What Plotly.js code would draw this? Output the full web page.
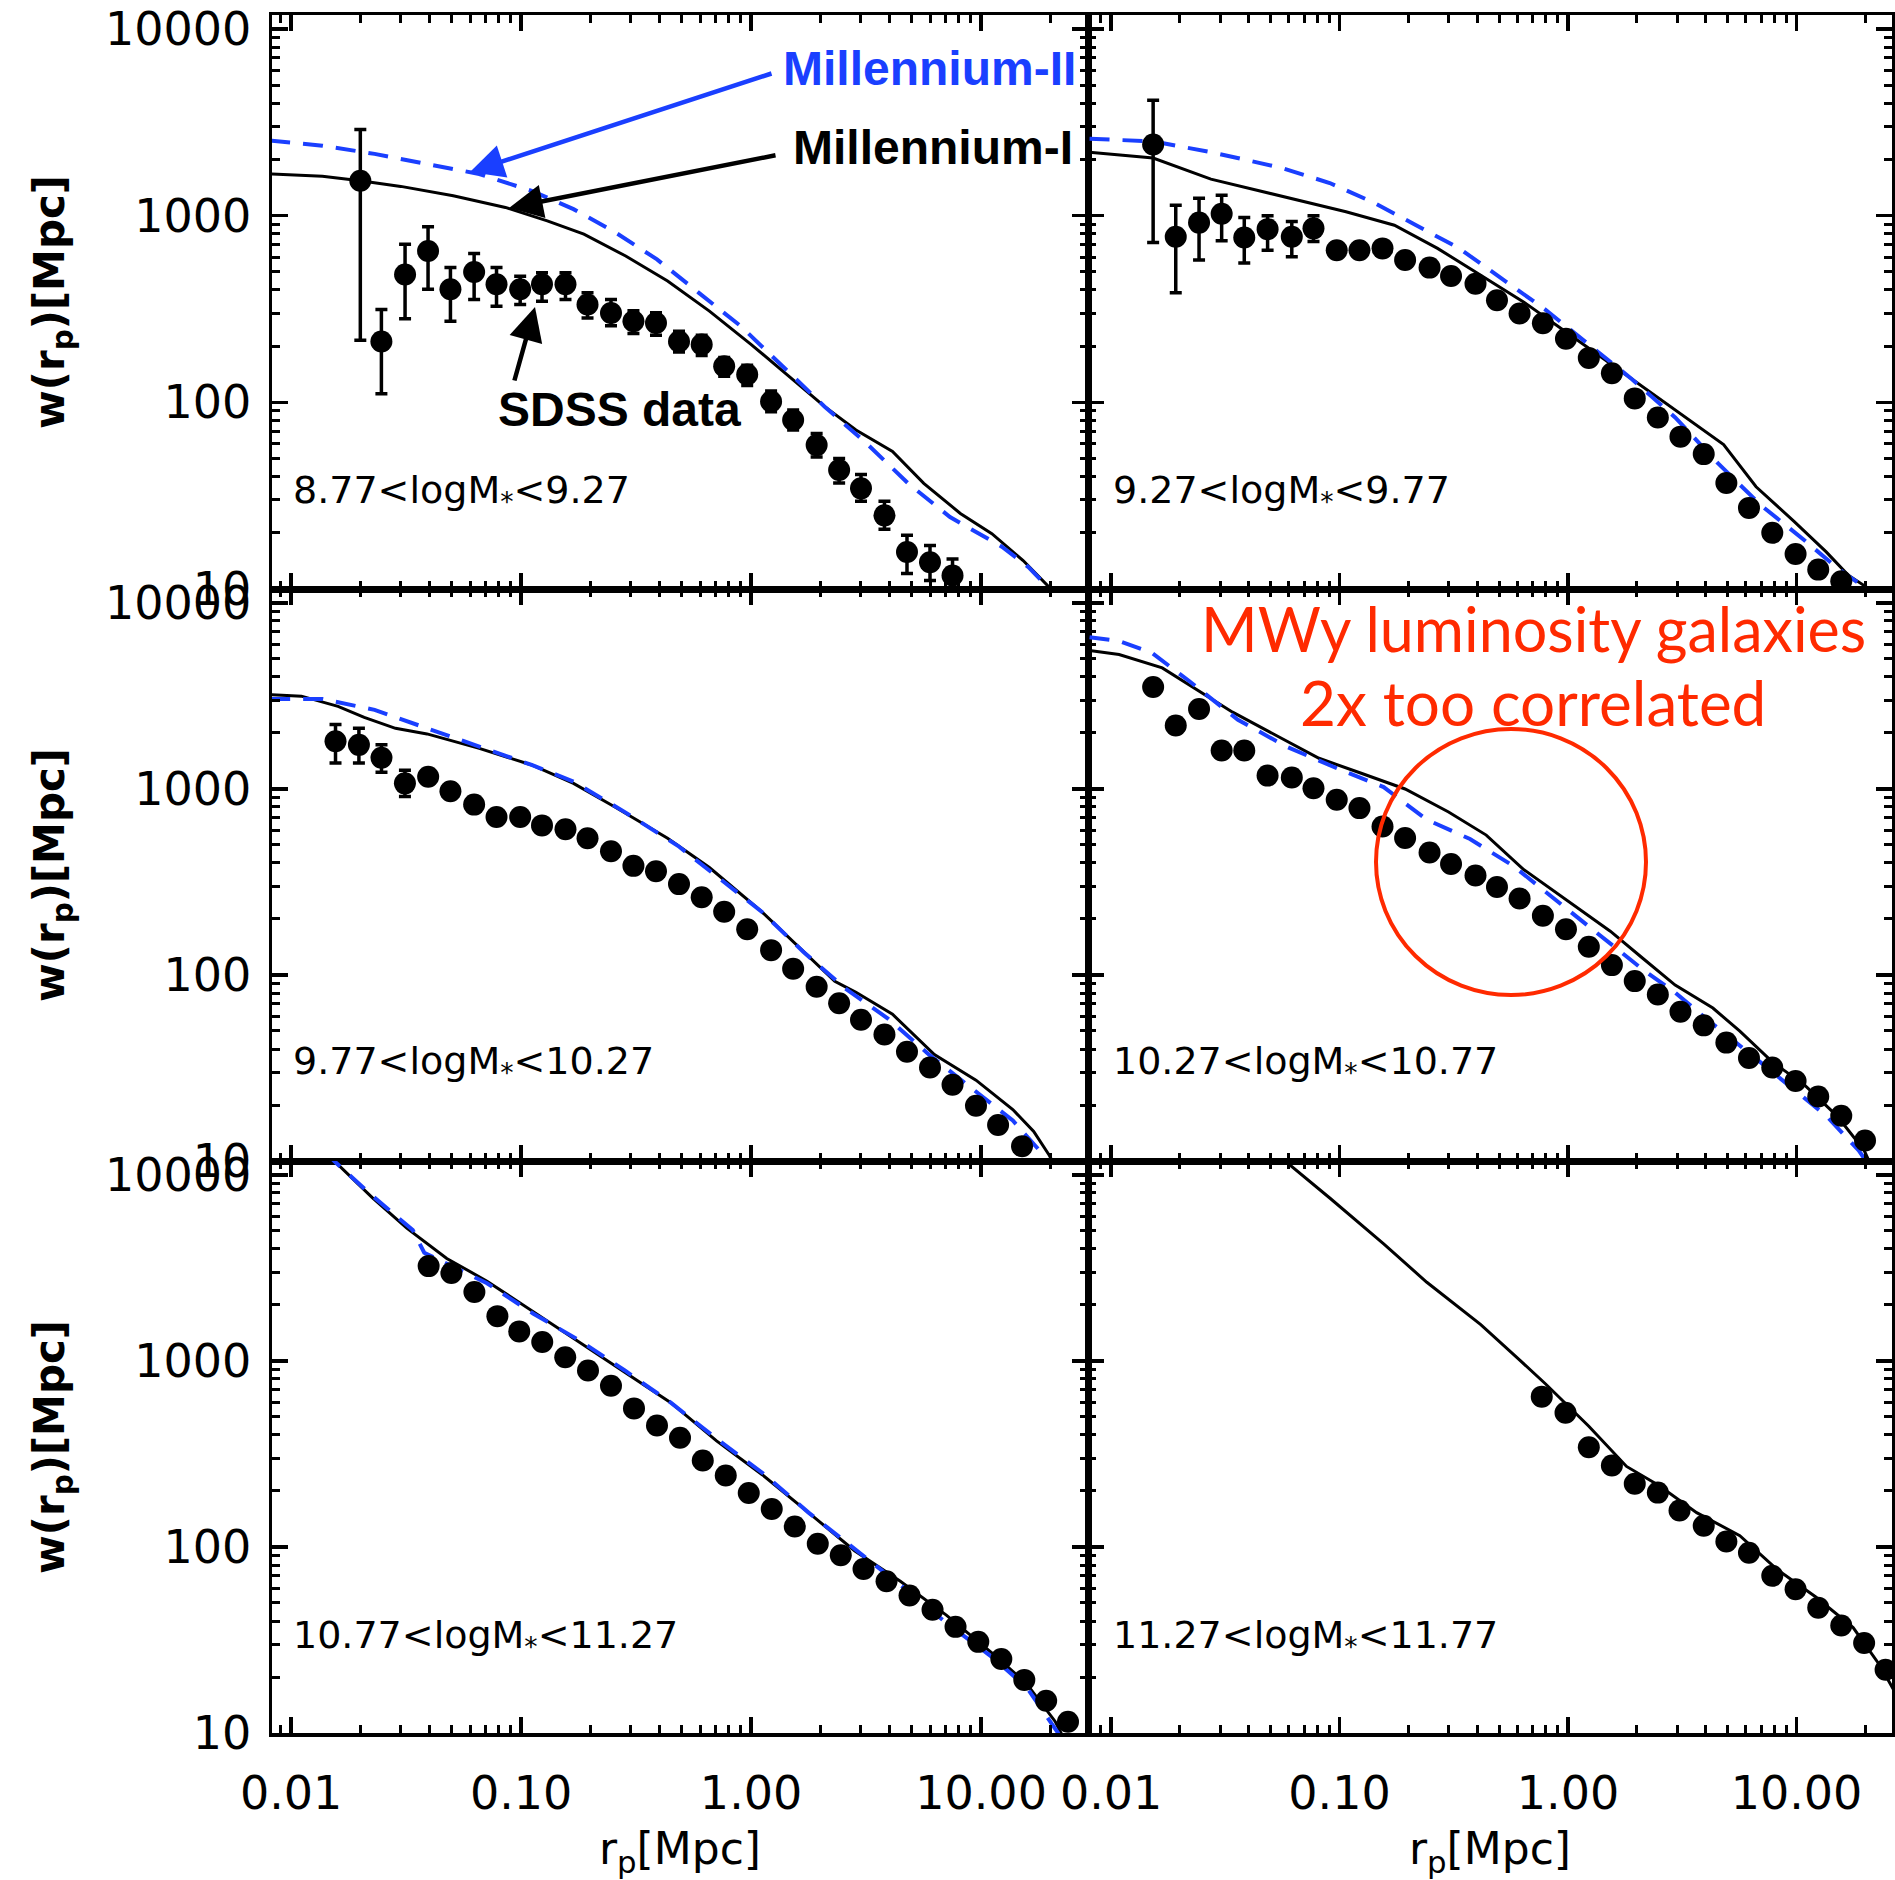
<!DOCTYPE html>
<html><head><meta charset="utf-8">
<script src="https://cdn.plot.ly/plotly-3.0.1.min.js"></script>
<style>html,body{margin:0;padding:0;background:#fff;overflow:hidden}</style>
</head><body><div id="chart" style="width:1895px;height:1880px"></div>
<script>
// ---------------- DATA ----------------
// Panel 1: 8.77<logM*<9.27
const p1_sdss_r = [0.0200,0.0247,0.0313,0.0394,0.0493,0.0625,0.0782,0.0991,0.1233,0.156,0.1945,0.246,0.308,0.386,0.486,0.610,0.764,0.962,1.222,1.524,1.928,2.415,3.006,3.802,4.764,5.998,7.516];
const p1_sdss_w = [1538,212,484,647,403,499,429,403,429,429,334,301,272,266,212,204,156,141,101,80.5,59.0,43.4,34.6,24.8,15.8,13.9,11.8];
const p1_sdss_hi = [2891,314,703,871,527,627,527,474,494,494,386,355,309,302,240,229,174,158,115,91,68,50,41,29.5,19.4,17.1,14.5];
const p1_sdss_lo = [215,111,280,403,272,356,327,334,348,356,283,257,234,229,186,178,138,123,89,71,51,37,29.5,20.9,12.1,11.1,9.8];
const p1_m1_r = [0.00811,0.01368,0.0200,0.0300,0.0507,0.0855,0.130,0.1875,0.285,0.4335,0.659,1.002,1.524,2.084,2.858,4.121,5.636,8.128,11.14,15.24,19.82,21.5];
const p1_m1_w = [1671,1626,1538,1435,1279,1107,938,796,608,447,308,204,132,95.1,71.1,54.5,36.8,25.4,19.8,14.2,10.2,8.5];
const p1_m2_r = [0.00811,0.01368,0.02307,0.0390,0.0658,0.1112,0.169,0.257,0.390,0.593,0.902,1.371,2.084,3.170,4.819,7.328,12.36,16.07,19.82,21.0];
const p1_m2_w = [2523,2371,2143,1892,1671,1358,1084,813,583,386,256,156,95.1,60.4,36.8,24.3,16.8,13.1,10.0,8.6];

// Panel 2: 9.27<logM*<9.77
const p2_sdss_r = [0.01528,0.01919,0.02427,0.03048,0.03828,0.04842,0.0618,0.0769,0.0972,0.1222,0.1542,0.1936,0.2477,0.3076,0.3936,0.4887,0.6138,0.7762,0.9795,1.233,1.556,1.959,2.472,3.105,3.926,4.932,6.194,7.834,9.908,12.45,15.70];
const p2_sdss_w = [2404,771,918,1023,764,847,771,855,653,653,668,579,527,475,432,352,299,265,219,173,143,105,83.0,65.5,52.8,37.0,27.2,20.0,15.4,12.7,11.0];
const p2_sdss_hi = [4150,1138,1239,1285,977,1000,931,1000];
const p2_sdss_lo = [718,387,579,735,558,653,603,728];
const p2_m1_r = [0.00804,0.01528,0.02735,0.0618,0.1067,0.1738,0.2685,0.4150,0.6412,0.9908,1.531,2.366,3.656,4.797,6.653,9.727,13.49,16.79,20.84,21.9];
const p2_m1_w = [2188,2037,1570,1239,1050,889,668,480,344,236,161,110,75.3,59.4,35.3,23.1,15.8,11.9,10.0,9.1];
const p2_m2_r = [0.00805,0.01528,0.02735,0.05546,0.0906,0.140,0.2163,0.3342,0.5164,0.798,1.233,1.905,2.944,4.550,7.031,10.86,15.03,20.28,21.4];
const p2_m2_w = [2582,2500,2188,1807,1496,1180,889,668,457,313,204,133,83.0,46.9,27.9,18.2,13.0,10.0,8.9];

// Panel 3: 9.77<logM*<10.27
const p3_sdss_r = [0.0156,0.01972,0.02472,0.03126,0.03945,0.0493,0.0625,0.0782,0.0991,0.1233,0.156,0.1945,0.246,0.308,0.386,0.486,0.610,0.764,0.962,1.222,1.524,1.928,2.415,3.006,3.802,4.764,5.998,7.516,9.506,11.86,15.07];
const p3_sdss_w = [1807,1726,1472,1072,1164,971,824,706,706,637,608,543,463,386,361,308,262,219,176,136,108,86.5,70.5,57.4,47.9,38.7,31.8,25.7,19.8,15.6,12.0];
const p3_sdss_hi = [2218,2118,1726,1259];
const p3_sdss_lo = [1377,1377,1230,912];
const p3_m1_r = [0.00811,0.01109,0.0160,0.0208,0.02844,0.0390,0.0658,0.1112,0.169,0.257,0.4335,0.659,1.112,1.690,2.312,2.858,4.121,6.266,9.506,13.74,16.94,19.82,21.4];
const p3_m1_w = [3214,3155,2780,2427,2118,1977,1652,1346,1072,798,543,378,219,133,92.5,80.7,61.5,37.3,27.2,18.9,14.4,10.7,8.9];
const p3_m2_r = [0.00811,0.01368,0.02307,0.0390,0.0731,0.1112,0.169,0.285,0.4808,0.7311,1.112,1.690,2.570,3.908,5.943,9.036,13.74,18.79,19.95];
const p3_m2_w = [3048,3048,2661,2118,1614,1346,1096,746,495,330,219,133,84.5,58.7,37.3,24.8,16.5,10.7,8.9];

// Panel 4: 10.27<logM*<10.77
const p4_sdss_r = [0.01528,0.01919,0.02427,0.03048,0.03828,0.04842,0.0618,0.0769,0.0972,0.1222,0.1542,0.1936,0.2477,0.3076,0.3936,0.4887,0.6138,0.7762,0.9795,1.233,1.556,1.959,2.472,3.105,3.926,4.932,6.194,7.834,9.908,12.45,15.70,19.95];
const p4_sdss_w = [3532,2193,2692,1611,1611,1180,1153,1009,875,789,628,545,456,395,343,297,258,208,176,142,113,92.7,78.5,63.4,53.6,43.3,35.8,31.8,26.9,22.2,17.5,12.9];
const p4_m1_r = [0.00805,0.01084,0.01675,0.02203,0.03404,0.0526,0.0813,0.1253,0.1936,0.300,0.4385,0.6412,0.9908,1.531,2.123,2.944,4.305,5.649,7.834,10.86,15.03,19.77,20.84,21.4];
const p4_m1_w = [5546,5284,4477,3614,2588,1945,1462,1211,1000,752,565,368,252,172,123,88.3,66.4,49.9,34.1,25.6,17.5,11.4,9.9,9.1];
const p4_m2_r = [0.00805,0.01084,0.01503,0.02203,0.0359,0.0586,0.1009,0.156,0.241,0.3724,0.5754,0.889,1.374,2.123,2.944,4.074,6.295,9.727,13.49,18.71,20.28,20.9];
const p4_m2_w = [6546,6237,5408,3793,2355,1687,1268,1023,684,538,386,252,164,107,80.4,57.5,37.5,24.4,17.5,11.4,9.9,8.9];

// Panel 5: 10.77<logM*<11.27
const p5_sdss_r = [0.03963,0.04977,0.06266,0.07889,0.09817,0.1236,0.1556,0.1954,0.246,0.3097,0.3899,0.4909,0.6166,0.7762,0.9772,1.230,1.549,1.950,2.455,3.083,3.882,4.887,6.152,7.745,9.727,12.25,15.42,19.19,23.88];
const p5_sdss_w = [3236,2972,2350,1742,1442,1265,1047,889,736,556,450,387,292,242,195,160,129,104,90.2,76.2,65.5,54.8,46.0,37.2,30.9,25.0,19.3,14.9,11.5];
const p5_m1_r = [0.01413,0.01552,0.02254,0.03184,0.04753,0.07112,0.1127,0.1786,0.2825,0.4477,0.7079,1.122,1.778,2.818,4.457,7.063,11.17,15.78,21.04,22.28,22.9];
const p5_m1_w = [13183,11776,7551,5176,3556,2685,1841,1265,869,597,372,244,153,95.5,65.5,43.0,26.9,18.4,11.5,10.0,9.1];
const p5_m2_r = [0.01413,0.01552,0.02254,0.03381,0.03793,0.07112,0.1127,0.1786,0.2825,0.4477,0.7079,1.122,1.778,2.818,4.457,7.063,11.17,15.78,21.63,22.4];
const p5_m2_w = [13183,11776,7727,5058,3819,2618,1799,1294,889,597,382,250,153,97.7,62.5,39.1,25.6,17.6,10.0,9.1];

// Panel 6: 11.27<logM*<11.77
const p6_sdss_r = [0.7674,0.9750,1.233,1.556,1.959,2.472,3.076,3.926,4.932,6.194,7.834,9.908,12.45,15.70,19.77,24.55];
const p6_sdss_w = [643,527,344,274,219,196,157,130,107,93.1,70.0,59.3,47.2,37.8,30.5,21.9];
const p6_m1_r = [0.04467,0.05546,0.0906,0.156,0.241,0.415,0.6081,0.798,1.233,1.803,2.500,3.656,5.649,8.279,12.11,17.70,23.23,27.1];
const p6_m1_w = [14454,12388,7516,4256,2649,1570,1023,752,446,271,214,153,115,75.2,54.0,36.9,23.0,16.4];

const panelLabels = ['8.77&lt;logM<sub>*</sub>&lt;9.27','9.27&lt;logM<sub>*</sub>&lt;9.77','9.77&lt;logM<sub>*</sub>&lt;10.27',
  '10.27&lt;logM<sub>*</sub>&lt;10.77','10.77&lt;logM<sub>*</sub>&lt;11.27','11.27&lt;logM<sub>*</sub>&lt;11.77'];
const xTickVals = [0.01, 0.1, 1, 10];
const xTickText = ['0.01', '0.10', '1.00', '10.00'];
const yTickVals = [10, 100, 1000, 10000];
const yTickText = ['10', '100', '1000', '10000'];

// ---------------- STYLE ----------------
const FONT = 'DejaVu Sans';
const BOLD = 'Liberation Sans';
const BLUE = '#1a3fff';
const RED = '#ff2a00';

const panels = [
  {sr:p1_sdss_r, sw:p1_sdss_w, hi:p1_sdss_hi, lo:p1_sdss_lo, m1r:p1_m1_r, m1w:p1_m1_w, m2r:p1_m2_r, m2w:p1_m2_w},
  {sr:p2_sdss_r, sw:p2_sdss_w, hi:p2_sdss_hi, lo:p2_sdss_lo, m1r:p2_m1_r, m1w:p2_m1_w, m2r:p2_m2_r, m2w:p2_m2_w},
  {sr:p3_sdss_r, sw:p3_sdss_w, hi:p3_sdss_hi, lo:p3_sdss_lo, m1r:p3_m1_r, m1w:p3_m1_w, m2r:p3_m2_r, m2w:p3_m2_w},
  {sr:p4_sdss_r, sw:p4_sdss_w, hi:null, lo:null, m1r:p4_m1_r, m1w:p4_m1_w, m2r:p4_m2_r, m2w:p4_m2_w},
  {sr:p5_sdss_r, sw:p5_sdss_w, hi:null, lo:null, m1r:p5_m1_r, m1w:p5_m1_w, m2r:p5_m2_r, m2w:p5_m2_w},
  {sr:p6_sdss_r, sw:p6_sdss_w, hi:null, lo:null, m1r:p6_m1_r, m1w:p6_m1_w, m2r:null, m2w:null}
];

const W = 1895, H = 1880;
const M = {l:272, r:3, t:15, b:147};
const PW = W - M.l - M.r, PH = H - M.t - M.b;
const colSplit = (1088 - M.l) / PW;
const rowA = (1733 - 1161) / PH, rowB = (1733 - 589) / PH;
const xDomains = [[0, colSplit], [colSplit, 1]];
const yDomains = [[rowB, 1], [rowA, rowB], [0, rowA]];
const xRanges = [[-2.083, 1.465], [-2.101, 1.418]];
const yRange = [1, 4.075];
const px = v => (v - M.l) / PW;
const py = v => (H - M.b - v) / PH;

function minorVals(e0, e1) { const v = []; for (let e = e0; e <= e1; e++) for (let m = 2; m <= 9; m++) v.push(m * Math.pow(10, e)); return v; }

const traces = [];
panels.forEach((p, i) => {
  const s = i === 0 ? '' : String(i + 1);
  const xa = 'x' + s, ya = 'y' + s;
  traces.push({x:p.m1r, y:p.m1w, xaxis:xa, yaxis:ya, mode:'lines', name:'Millennium-I',
    line:{color:'black', width:3}, showlegend:false, hoverinfo:'skip'});
  if (p.m2r) traces.push({x:p.m2r, y:p.m2w, xaxis:xa, yaxis:ya, mode:'lines', name:'Millennium-II',
    line:{color:BLUE, width:4, dash:'20px,13px'}, showlegend:false, hoverinfo:'skip'});
  const t = {x:p.sr, y:p.sw, xaxis:xa, yaxis:ya, mode:'markers', name:'SDSS data',
    marker:{color:'black', size:22, symbol:'circle'}, showlegend:false};
  if (p.hi) {
    t.error_y = {type:'data', symmetric:false, visible:true,
      array:p.hi.map((h, k) => h - p.sw[k]), arrayminus:p.lo.map((l, k) => p.sw[k] - l),
      color:'black', thickness:3.5, width:6};
  }
  traces.push(t);
});

const layout = {
  width: W, height: H, margin: M, paper_bgcolor:'white', plot_bgcolor:'white', showlegend:false,
  font:{family:FONT, color:'black', size:46},
  annotations: [], shapes: []
};

const axisCommon = {
  type:'log', showline:true, linecolor:'black', linewidth:3.5, mirror:'ticks',
  ticks:'inside', ticklen:16, tickwidth:3.5, tickcolor:'black',
  showgrid:false, zeroline:false, fixedrange:true,
  tickfont:{family:FONT, size:46, color:'black'}
};

for (let i = 0; i < 6; i++) {
  const s = i === 0 ? '' : String(i + 1);
  const col = i % 2, row = Math.floor(i / 2);
  const xa = Object.assign({}, axisCommon, {
    domain:xDomains[col], range:xRanges[col], anchor:'y' + s,
    tickmode:'array', tickvals:xTickVals, ticktext:xTickText,
    showticklabels: row === 2, ticklabelstandoff: 17,
    minor:{tickmode:'array', tickvals:minorVals(-3, 1), ticks:'inside', ticklen:8, tickwidth:3, tickcolor:'black', showgrid:false}
  });
  if (row === 2) xa.title = {text:'r<sub>p</sub>[Mpc]', font:{family:FONT, size:44, color:'black'}, standoff:27};
  const yaObj = Object.assign({}, axisCommon, {
    domain:yDomains[row], range:yRange, anchor:'x' + s,
    tickmode:'array', tickvals:yTickVals, ticktext:yTickText,
    showticklabels: col === 0, ticklabelstandoff: 8,
    minor:{tickmode:'array', tickvals:minorVals(0, 4), ticks:'inside', ticklen:8, tickwidth:3, tickcolor:'black', showgrid:false}
  });
  if (col === 0) yaObj.title = {text:'w(r<sub>p</sub>)[Mpc]', font:{family:FONT, size:42, color:'black', weight:'bold'}, standoff:28};
  layout['xaxis' + s] = xa;
  layout['yaxis' + s] = yaObj;
}

// panel labels
const labelX = [px(291), px(1111)];
const labelY = [py(492), py(1064), py(1637)];
panelLabels.forEach((txt, i) => {
  layout.annotations.push({text:txt, xref:'paper', yref:'paper', x:labelX[i % 2], y:labelY[Math.floor(i / 2)],
    xanchor:'left', yanchor:'middle', showarrow:false, font:{family:FONT, size:38, color:'black'}});
});

// legend-like labels and arrows
layout.annotations.push(
  {text:'Millennium-II', xref:'paper', yref:'paper', x:px(781), y:py(69), xanchor:'left', yanchor:'middle',
   showarrow:false, font:{family:BOLD, size:48, color:BLUE, weight:'bold'}},
  {text:'Millennium-I', xref:'paper', yref:'paper', x:px(791), y:py(147), xanchor:'left', yanchor:'middle',
   showarrow:false, font:{family:BOLD, size:48, color:'black', weight:'bold'}},
  {text:'SDSS data', xref:'paper', yref:'paper', x:px(619), y:py(409), xanchor:'center', yanchor:'middle',
   showarrow:false, font:{family:BOLD, size:48, color:'black', weight:'bold'}},
  {text:'', xref:'paper', yref:'paper', x:px(470), y:py(172), ax:303, ay:-99, showarrow:true,
   arrowcolor:BLUE, arrowwidth:4.5, arrowhead:2, arrowsize:1.5, standoff:0, startstandoff:0},
  {text:'', xref:'paper', yref:'paper', x:px(509), y:py(208), ax:268, ay:-53, showarrow:true,
   arrowcolor:'black', arrowwidth:4.5, arrowhead:2, arrowsize:1.5, standoff:0, startstandoff:0},
  {text:'', xref:'paper', yref:'paper', x:px(535), y:py(307), ax:-21, ay:75, showarrow:true,
   arrowcolor:'black', arrowwidth:4.5, arrowhead:2, arrowsize:1.5, standoff:0, startstandoff:0},
  {text:'MWy luminosity galaxies', xref:'paper', yref:'paper', x:px(1533), y:py(628), xanchor:'center', yanchor:'middle',
   showarrow:false, font:{family:'Lato', size:61, color:RED}},
  {text:'2x too correlated', xref:'paper', yref:'paper', x:px(1533), y:py(702), xanchor:'center', yanchor:'middle',
   showarrow:false, font:{family:'Lato', size:62, color:RED}}
);

layout.shapes.push({type:'circle', xref:'paper', yref:'paper', x0:px(1376), x1:px(1646), y0:py(995), y1:py(729),
  line:{color:RED, width:4}, fillcolor:'rgba(0,0,0,0)'});

Plotly.newPlot('chart', traces, layout, {staticPlot:true, displayModeBar:false});
</script></body></html>
